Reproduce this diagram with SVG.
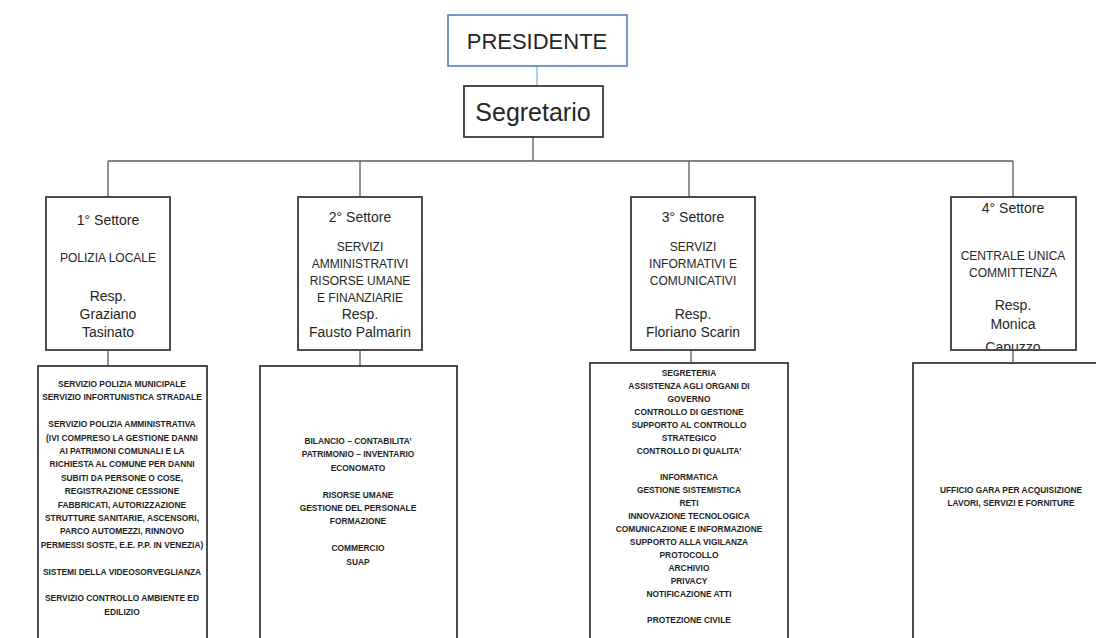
<svg xmlns="http://www.w3.org/2000/svg" width="1096" height="638" viewBox="0 0 1096 638">
<style>
.bg{fill:#ffffff}
.box{fill:#ffffff;stroke:#3a3a3a;stroke-width:1.8}
.pbox{fill:#ffffff;stroke:#4f81bd;stroke-width:1.6}
.ln{stroke:#5a5a5a;stroke-width:1.3;fill:none}
.bl{stroke:#8db3e2;stroke-width:1.3;fill:none}
.t{font-family:"Liberation Sans",Arial,sans-serif;fill:#262626;text-anchor:middle}
.big{font-size:22px}
.seg{font-size:25px}
.m{font-size:14px}
.c{font-size:12px}
.b{font-size:8.4px;font-weight:bold;fill:#1e1e1e}
</style>
<defs>
<clipPath id="clip4"><rect x="952" y="198" width="123" height="151"/></clipPath>
</defs>
<rect class="bg" x="0" y="0" width="1096" height="638"/>
<g id="connectors">
<line class="bl" x1="537" y1="66" x2="537" y2="86"/>
<line class="ln" x1="533" y1="137" x2="533" y2="161"/>
<line class="ln" x1="108" y1="161" x2="1013" y2="161"/>
<line class="ln" x1="108" y1="161" x2="108" y2="197"/>
<line class="ln" x1="360" y1="161" x2="360" y2="197"/>
<line class="ln" x1="689" y1="161" x2="689" y2="197"/>
<line class="ln" x1="1013" y1="161" x2="1013" y2="197"/>
<line class="ln" x1="108" y1="350" x2="108" y2="366"/>
<line class="ln" x1="360" y1="350" x2="360" y2="366"/>
<line class="ln" x1="691" y1="350" x2="691" y2="363"/>
<line class="ln" x1="1013" y1="350" x2="1013" y2="363"/>
</g>
<g id="presidente">
<rect class="pbox" x="448" y="15" width="179" height="51"/>
<text class="t big" x="537" y="49">PRESIDENTE</text>
</g>
<g id="segretario">
<rect class="box" x="464" y="86" width="139" height="51"/>
<text class="t seg" x="533" y="121">Segretario</text>
</g>
<g id="settore1">
<rect class="box" x="46" y="197" width="124" height="153"/>
<text class="t m" x="108" y="225">1° Settore</text>
<text class="t c" x="108" y="262">POLIZIA LOCALE</text>
<text class="t m" x="108" y="301">Resp.</text>
<text class="t m" x="108" y="319">Graziano</text>
<text class="t m" x="108" y="337">Tasinato</text>
</g>
<g id="settore2">
<rect class="box" x="298" y="197" width="124" height="153"/>
<text class="t m" x="360" y="222">2° Settore</text>
<text class="t c" x="360" y="251">SERVIZI</text>
<text class="t c" x="360" y="268">AMMINISTRATIVI</text>
<text class="t c" x="360" y="285">RISORSE UMANE</text>
<text class="t c" x="360" y="302">E FINANZIARIE</text>
<text class="t m" x="360" y="319">Resp.</text>
<text class="t m" x="360" y="337">Fausto Palmarin</text>
</g>
<g id="settore3">
<rect class="box" x="631" y="197" width="124" height="153"/>
<text class="t m" x="693" y="222">3° Settore</text>
<text class="t c" x="693" y="251">SERVIZI</text>
<text class="t c" x="693" y="268">INFORMATIVI E</text>
<text class="t c" x="693" y="285">COMUNICATIVI</text>
<text class="t m" x="693" y="319">Resp.</text>
<text class="t m" x="693" y="337">Floriano Scarin</text>
</g>
<g id="settore4">
<rect class="box" x="951" y="197" width="125" height="153"/>
<g clip-path="url(#clip4)">
<text class="t m" x="1013" y="213">4° Settore</text>
<text class="t c" x="1013" y="260">CENTRALE UNICA</text>
<text class="t c" x="1013" y="277">COMMITTENZA</text>
<text class="t m" x="1013" y="310">Resp.</text>
<text class="t m" x="1013" y="329">Monica</text>
<text class="t m" x="1013" y="352">Capuzzo</text>
</g>
</g>
<g id="uffici1">
<rect class="box" x="38" y="366" width="169" height="290"/>
<text class="t b" x="122" y="387">SERVIZIO POLIZIA MUNICIPALE</text>
<text class="t b" x="122" y="400.4">SERVIZIO INFORTUNISTICA STRADALE</text>
<text class="t b" x="122" y="427.2">SERVIZIO POLIZIA AMMINISTRATIVA</text>
<text class="t b" x="122" y="440.6">(IVI COMPRESO LA GESTIONE DANNI</text>
<text class="t b" x="122" y="454">AI PATRIMONI COMUNALI E LA</text>
<text class="t b" x="122" y="467.4">RICHIESTA AL COMUNE PER DANNI</text>
<text class="t b" x="122" y="480.8">SUBITI DA PERSONE O COSE,</text>
<text class="t b" x="122" y="494.2">REGISTRAZIONE CESSIONE</text>
<text class="t b" x="122" y="507.6">FABBRICATI,  AUTORIZZAZIONE</text>
<text class="t b" x="122" y="521">STRUTTURE SANITARIE, ASCENSORI,</text>
<text class="t b" x="122" y="534.4">PARCO AUTOMEZZI, RINNOVO</text>
<text class="t b" x="122" y="547.8">PERMESSI SOSTE, E.E. P.P. IN VENEZIA)</text>
<text class="t b" x="122" y="574.6">SISTEMI DELLA VIDEOSORVEGLIANZA</text>
<text class="t b" x="122" y="601.4">SERVIZIO CONTROLLO AMBIENTE ED</text>
<text class="t b" x="122" y="614.8">EDILIZIO</text>
</g>
<g id="uffici2">
<rect class="box" x="260" y="366" width="197" height="290"/>
<text class="t b" x="358" y="444">BILANCIO – CONTABILITA’</text>
<text class="t b" x="358" y="457.4">PATRIMONIO – INVENTARIO</text>
<text class="t b" x="358" y="470.8">ECONOMATO</text>
<text class="t b" x="358" y="497.6">RISORSE UMANE</text>
<text class="t b" x="358" y="511">GESTIONE DEL PERSONALE</text>
<text class="t b" x="358" y="524.4">FORMAZIONE</text>
<text class="t b" x="358" y="551.2">COMMERCIO</text>
<text class="t b" x="358" y="564.6">SUAP</text>
</g>
<g id="uffici3">
<rect class="box" x="590" y="363" width="198" height="293"/>
<text class="t b" x="689" y="376">SEGRETERIA</text>
<text class="t b" x="689" y="389">ASSISTENZA AGLI ORGANI DI</text>
<text class="t b" x="689" y="402">GOVERNO</text>
<text class="t b" x="689" y="415">CONTROLLO DI GESTIONE</text>
<text class="t b" x="689" y="428">SUPPORTO AL CONTROLLO</text>
<text class="t b" x="689" y="441">STRATEGICO</text>
<text class="t b" x="689" y="454">CONTROLLO DI QUALITA’</text>
<text class="t b" x="689" y="480">INFORMATICA</text>
<text class="t b" x="689" y="493">GESTIONE SISTEMISTICA</text>
<text class="t b" x="689" y="506">RETI</text>
<text class="t b" x="689" y="519">INNOVAZIONE TECNOLOGICA</text>
<text class="t b" x="689" y="532">COMUNICAZIONE E INFORMAZIONE</text>
<text class="t b" x="689" y="545">SUPPORTO ALLA VIGILANZA</text>
<text class="t b" x="689" y="558">PROTOCOLLO</text>
<text class="t b" x="689" y="571">ARCHIVIO</text>
<text class="t b" x="689" y="584">PRIVACY</text>
<text class="t b" x="689" y="597">NOTIFICAZIONE ATTI</text>
<text class="t b" x="689" y="623">PROTEZIONE CIVILE</text>
</g>
<g id="uffici4">
<rect class="box" x="913" y="363" width="200" height="293"/>
<text class="t b" x="1011" y="493">UFFICIO GARA PER ACQUISIZIONE</text>
<text class="t b" x="1011" y="506">LAVORI, SERVIZI E FORNITURE</text>
</g>
</svg>
